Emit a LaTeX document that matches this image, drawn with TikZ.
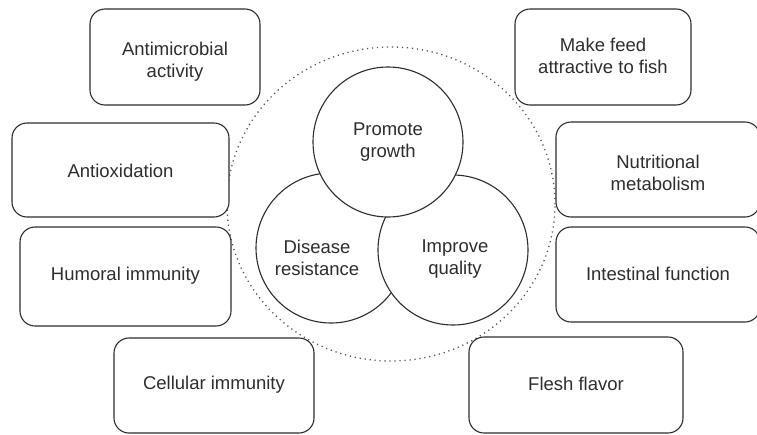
\documentclass[tikz,border=0pt]{standalone}
\usepackage{fontspec}
\setmainfont{Liberation Sans}
\usetikzlibrary{shapes.geometric}
\definecolor{ink}{HTML}{2E2E2E}
\definecolor{dotc}{HTML}{555555}
\begin{document}
\begin{tikzpicture}[x=1pt,y=-1pt,
  txt/.style={align=center, text=ink, font=\fontsize{18.5}{22}\selectfont},
  box/.style={draw=ink, fill=white, rounded corners=15pt, line width=1.1pt, inner sep=0pt},
  circ/.style={circle, draw=ink, fill=white, minimum size=150pt, inner sep=0pt, line width=1.1pt},
  dotring/.style={ellipse, draw=dotc, line width=1.3pt, dash pattern=on 1.2pt off 3.8pt, inner sep=0pt}]
\useasboundingbox (0,0) rectangle (757,434);
\node[dotring, minimum width=328pt, minimum height=314pt] (ring) at (391,204) {};
% left boxes
\node[box, minimum width=170pt, minimum height=96pt] (am) at (175,57) {};
\node[box, minimum width=217pt, minimum height=94pt] (ao) at (120.5,170) {};
\node[box, minimum width=211pt, minimum height=99pt] (hu) at (125.5,276.5) {};
\node[box, minimum width=200pt, minimum height=95pt] (ce) at (214,385.5) {};
% right boxes
\node[box, minimum width=176pt, minimum height=96pt] (mf) at (603,57) {};
\node[box, minimum width=204pt, minimum height=95pt] (nm) at (658,169.5) {};
\node[box, minimum width=204pt, minimum height=95pt] (it) at (658,274.5) {};
\node[box, minimum width=214pt, minimum height=96pt] (ff) at (576,385) {};
% box texts
\node[txt] (amt) at (175,62) {Antimicrobial\\activity};
\node[txt] (aot) at (120.5,171) {Antioxidation};
\node[txt] (hut) at (125.5,276) {Humoral immunity};
\node[txt] (cet) at (214,385) {Cellular immunity};
\node[txt] (mft) at (603,56) {Make feed\\attractive to fish};
\node[txt] (nmt) at (658,172.5) {Nutritional\\metabolism};
\node[txt] (itt) at (658,273.5) {Intestinal function};
\node[txt] (fft) at (576,384) {Flesh flavor};
% circles
\node[circ] (dr) at (331,248) {};
\node[circ] (iq) at (453,250) {};
\node[circ] (pg) at (388,142) {};
\node[txt] (pgt) at (388,142) {Promote\\growth};
\node[txt] (drt) at (317,258) {Disease\\resistance};
\node[txt] (iqt) at (455,259) {Improve\\quality};
\end{tikzpicture}
\end{document}
